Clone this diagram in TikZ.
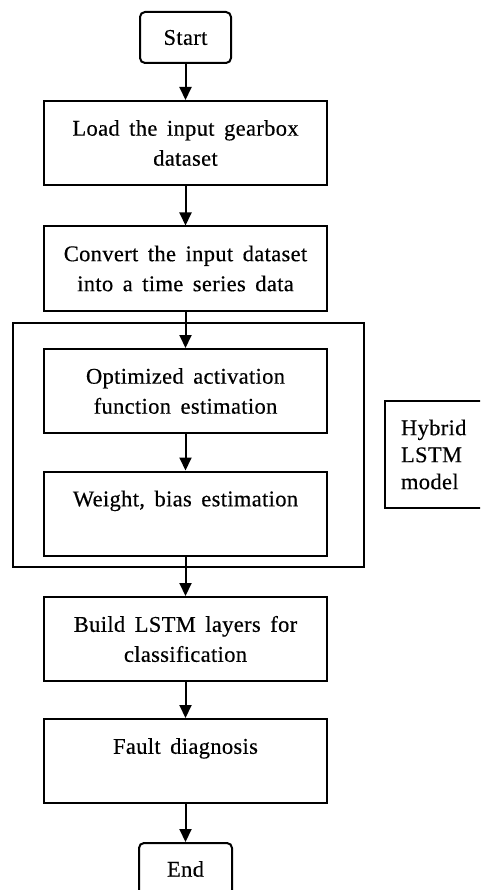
\documentclass[tikz,border=0pt]{standalone}
\usepackage{fontspec}
\setmainfont{Liberation Serif}[LetterSpace=1.5,WordSpace=1.6,FakeBold=0.4]
\usetikzlibrary{arrows.meta}

\begin{document}
\begin{tikzpicture}[x=1pt,y=-1pt,
  font=\fontsize{22.5}{30}\selectfont,
  stepbox/.style={draw, line width=2pt, minimum width=283pt, minimum height=84pt,
    align=center, inner sep=0pt},
  termbox/.style={draw, line width=2pt, rounded corners=5pt, minimum width=91pt,
    minimum height=51pt, inner sep=0pt},
  flow/.style={-{Triangle[width=12pt,length=13pt]}, line width=2pt}]
\useasboundingbox (0,0) rectangle (480,890);
\clip (0,0) rectangle (480,890);

% outer frame around the hybrid model steps
\node[draw, line width=1.7pt, minimum width=351pt, minimum height=244pt, inner sep=0pt]
  (frame) at (188.5,445) {};

\node[termbox] (start) at (185.5,37.5) {Start};
\node[stepbox] (load) at (185.5,143) {Load the input gearbox\\dataset};
\node[stepbox] (conv) at (185.5,268.5) {Convert the input dataset\\into a time series data};
\node[stepbox] (opt) at (185.5,391) {Optimized activation\\function estimation};
\node[stepbox] (wb) at (185.5,513.5) {Weight, bias estimation\\\mbox{}};
\node[stepbox] (build) at (185.5,639) {Build LSTM layers for\\classification};
\node[stepbox] (fault) at (185.5,761) {Fault diagnosis\\\mbox{}};
\node[termbox, minimum width=93pt, minimum height=52pt] (end) at (185.5,869) {End};

% side label box
\node[draw, line width=2pt, minimum height=107pt, text width=70pt, align=left,
  inner xsep=16pt, inner ysep=0pt, font=\fontsize{22.5}{27}\selectfont, anchor=north west]
  (hyb) at (384,400) {Hybrid\\LSTM\\model};

\draw[flow] (start) -- (load);
\draw[flow] (load) -- (conv);
\draw[flow] (conv) -- (opt);
\draw[flow] (opt) -- (wb);
\draw[flow] (wb) -- (build);
\draw[flow] (build) -- (fault);
\draw[flow] (fault) -- (end);
\end{tikzpicture}
\end{document}
